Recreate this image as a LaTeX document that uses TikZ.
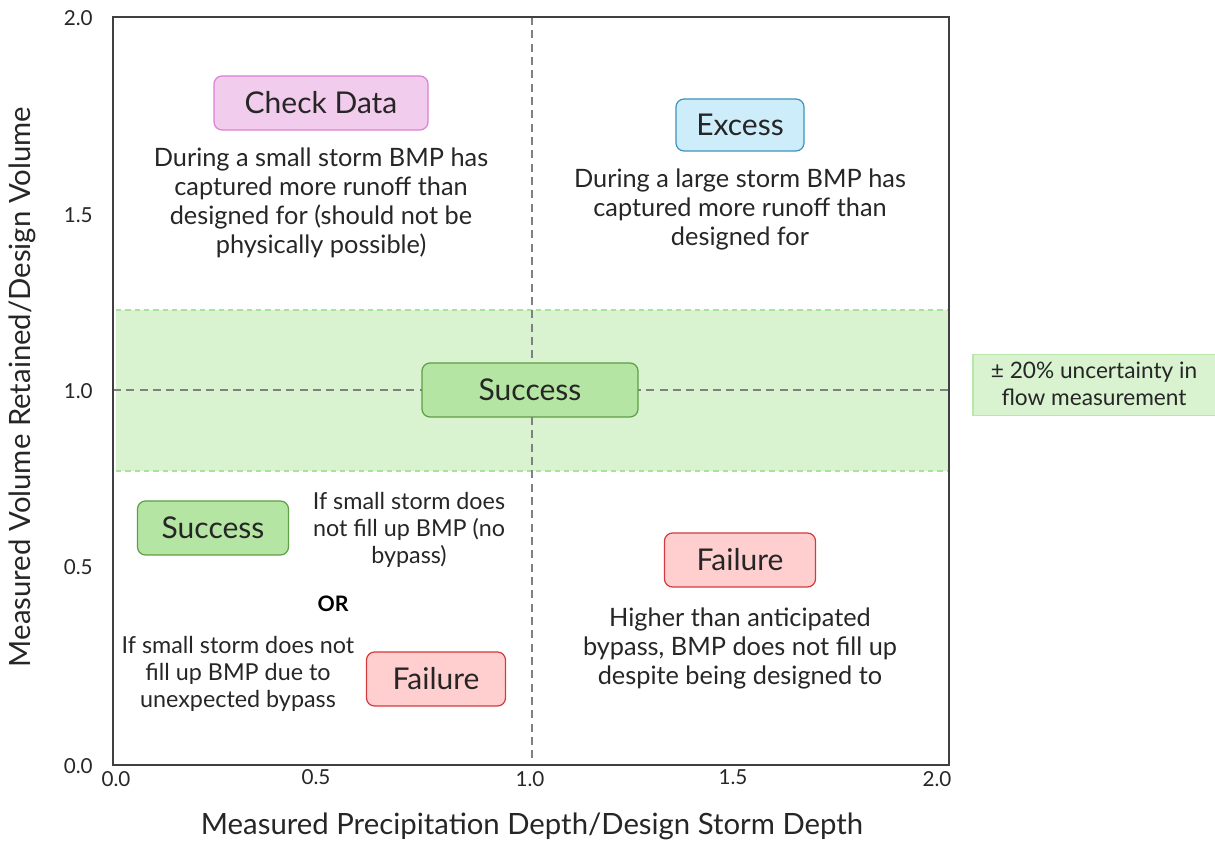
\documentclass[tikz,border=0pt]{standalone}
\usepackage{fontspec}
\setmainfont{Lato}
\usetikzlibrary{positioning}
\definecolor{txt}{HTML}{262626}
\definecolor{frame}{HTML}{404040}
\definecolor{dashgray}{HTML}{808080}
\definecolor{bandfill}{HTML}{D9F2D0}
\definecolor{banddash}{HTML}{A9E29A}
\definecolor{legborder}{HTML}{B9E6AA}
\definecolor{pinkfill}{HTML}{F2CCEC}
\definecolor{pinkdraw}{HTML}{DD7FD2}
\definecolor{bluefill}{HTML}{CDEDFA}
\definecolor{bluedraw}{HTML}{3D92B8}
\definecolor{greenfill}{HTML}{B4E5A2}
\definecolor{greendraw}{HTML}{5E9E45}
\definecolor{redfill}{HTML}{FFCFD0}
\definecolor{reddraw}{HTML}{D23A3C}
\tikzset{
  px/.style={x=0.75pt,y=-0.75pt},
  catbox/.style={rounded corners=6pt,line width=0.9pt,text=txt,font=\fontsize{22.5}{26}\selectfont,anchor=center,inner sep=0pt},
  desc/.style={align=center,text=txt,font=\fontsize{19}{21.75}\selectfont,inner sep=0pt},
  small/.style={align=center,text=txt,font=\fontsize{17.5}{20.2}\selectfont,inner sep=0pt},
  tick/.style={text=txt,font=\fontsize{15.5}{18}\selectfont,inner sep=0pt},
  axtitle/.style={text=txt,font=\fontsize{22}{26}\selectfont,inner sep=0pt},
  qdash/.style={dashgray,line width=0.8pt,dash pattern=on 6pt off 4pt},
}
\begin{document}
\begin{tikzpicture}[px]
\useasboundingbox (0,0) rectangle (1215,841);
% band
\fill[bandfill] (116,310) rectangle (949,471);
\draw[banddash,line width=0.8pt,dash pattern=on 4pt off 3pt] (116,310) -- (949,310);
\draw[banddash,line width=0.8pt,dash pattern=on 4pt off 3pt] (116,471) -- (949,471);
% coordinates
\coordinate (vt) at (532,17);
\coordinate (vb) at (532,765);
\coordinate (hl) at (113,390);
\coordinate (hr) at (949,390);
\draw[qdash] (vt) -- (vb);
\draw[qdash] (hl) -- (hr);
% frame
\draw[frame,line width=1.4pt] (113,17) rectangle (949,765);
% boxes
\node[catbox,fill=pinkfill,draw=pinkdraw,minimum width=214*0.75pt,minimum height=54*0.75pt] (check) at (321,103) {Check Data};
\node[desc] (checkd) at (321,203) {During a small storm BMP has\\captured more runoff than\\designed for (should not be\\physically possible)};
\node[catbox,fill=bluefill,draw=bluedraw,minimum width=128*0.75pt,minimum height=52*0.75pt] (excess) at (740,125) {Excess};
\node[desc] (excessd) at (740,209) {During a large storm BMP has\\captured more runoff than\\designed for};
\node[catbox,fill=greenfill,draw=greendraw,minimum width=216*0.75pt,minimum height=54*0.75pt] (succ) at (530,390) {Success};
\node[catbox,fill=greenfill,draw=greendraw,minimum width=151*0.75pt,minimum height=54*0.75pt] (succ2) at (213,528) {Success};
\node[small] (succ2d) at (409,530) {If small storm does\\not fill up BMP (no\\bypass)};
\node[text=black,font=\fontsize{16}{18}\selectfont\bfseries,inner sep=0pt] (or) at (333,604) {OR};
\node[small] (fail2d) at (238,674) {If small storm does not\\fill up BMP due to\\unexpected bypass};
\node[catbox,fill=redfill,draw=reddraw,minimum width=139*0.75pt,minimum height=54*0.75pt] (fail2) at (436,679) {Failure};
\node[catbox,fill=redfill,draw=reddraw,minimum width=151*0.75pt,minimum height=54*0.75pt] (fail) at (740,560) {Failure};
\node[desc] (faild) at (740,648) {Higher than anticipated\\bypass, BMP does not fill up\\despite being designed to};
% legend
\node[rectangle,fill=bandfill,draw=legborder,line width=0.8pt,minimum width=244*0.75pt,minimum height=61*0.75pt,inner sep=0pt] (leg) at (1095,385) {};
\node[align=center,text=txt,font=\fontsize{17}{20}\selectfont,inner sep=0pt] (legt) at (1094,384) {± 20\% uncertainty in\\flow measurement};
% ticks
\node[tick,anchor=east] (y20) at (93,18) {2.0};
\node[tick,anchor=east] (y15) at (93,215) {1.5};
\node[tick,anchor=east] (y10) at (93,391) {1.0};
\node[tick,anchor=east] (y05) at (93,567) {0.5};
\node[tick,anchor=east] (y00) at (93,766) {0.0};
\node[tick] (x00) at (116,779) {0.0};
\node[tick] (x05) at (316,777) {0.5};
\node[tick] (x10) at (530,779) {1.0};
\node[tick] (x15) at (733,777) {1.5};
\node[tick] (x20) at (937,779) {2.0};
% titles
\node[axtitle] (xt) at (532,826) {Measured Precipitation Depth/Design Storm Depth};
\node[axtitle,rotate=90] (yt) at (22,387) {Measured Volume Retained/Design Volume};
\end{tikzpicture}
\end{document}
